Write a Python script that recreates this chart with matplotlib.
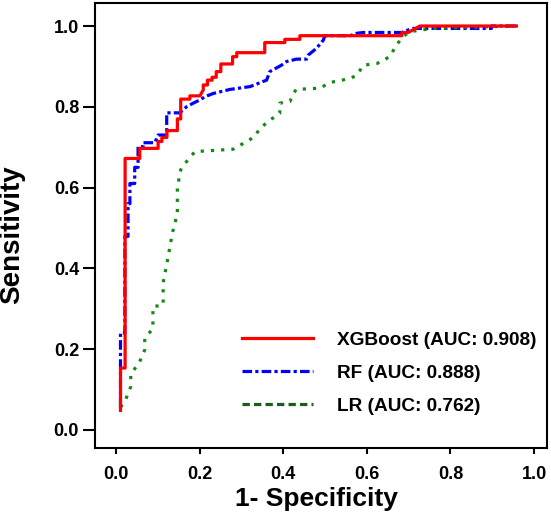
import matplotlib
matplotlib.use('Agg')
import matplotlib.pyplot as plt
from matplotlib.lines import Line2D

plt.rcParams['font.family'] = ['Liberation Sans', 'DejaVu Sans']
plt.rcParams['font.weight'] = 'bold'

# ROC vertices (fpr, tpr)
xgb_fpr = [0.011, 0.011, 0.022, 0.022, 0.057, 0.057, 0.101, 0.101, 0.110, 0.110,
           0.122, 0.122, 0.147, 0.147, 0.155, 0.155, 0.177, 0.177, 0.201, 0.209,
           0.209, 0.219, 0.219, 0.230, 0.230, 0.240, 0.240, 0.251, 0.251, 0.279,
           0.279, 0.289, 0.289, 0.356, 0.356, 0.404, 0.404, 0.440, 0.440, 0.684,
           0.684, 0.699, 0.727, 0.958]
xgb_tpr = [0.048, 0.153, 0.153, 0.672, 0.672, 0.697, 0.697, 0.714, 0.714, 0.724,
           0.724, 0.741, 0.741, 0.770, 0.770, 0.819, 0.819, 0.827, 0.827, 0.842,
           0.854, 0.854, 0.866, 0.866, 0.873, 0.873, 0.887, 0.887, 0.906, 0.906,
           0.924, 0.924, 0.934, 0.934, 0.959, 0.959, 0.967, 0.967, 0.976, 0.976,
           0.984, 0.984, 1.000, 1.000]

rf_fpr = [0.011, 0.011, 0.0215, 0.0215, 0.029, 0.029, 0.0335, 0.0335, 0.045, 0.045,
          0.053, 0.053, 0.065, 0.065, 0.093, 0.101, 0.1215, 0.1215, 0.153, 0.169,
          0.185, 0.201, 0.213, 0.233, 0.273, 0.321, 0.3605, 0.368, 0.396, 0.408,
          0.432, 0.456, 0.460, 0.480, 0.496, 0.500, 0.560, 0.576, 0.592, 0.684,
          0.708, 0.898, 0.898, 0.958]
rf_tpr = [0.056, 0.240, 0.240, 0.479, 0.479, 0.560, 0.560, 0.610, 0.610, 0.650,
          0.650, 0.701, 0.701, 0.711, 0.711, 0.730, 0.730, 0.785, 0.785, 0.800,
          0.809, 0.817, 0.825, 0.833, 0.843, 0.850, 0.866, 0.887, 0.903, 0.912,
          0.918, 0.918, 0.928, 0.945, 0.965, 0.976, 0.976, 0.982, 0.984, 0.984,
          0.994, 0.994, 1.000, 1.000]

lr_fpr = [0.011, 0.0215, 0.0355, 0.0355, 0.057, 0.069, 0.069, 0.0885, 0.0885, 0.113,
          0.113, 0.125, 0.135, 0.147, 0.147, 0.155, 0.1655, 0.189, 0.2807, 0.3125,
          0.332, 0.344, 0.3685, 0.392, 0.392, 0.416, 0.4306, 0.488, 0.512, 0.560,
          0.576, 0.592, 0.624, 0.655, 0.671, 0.687, 0.703, 0.7576, 0.958]
lr_tpr = [0.056, 0.070, 0.107, 0.137, 0.169, 0.198, 0.226, 0.251, 0.305, 0.309,
          0.364, 0.429, 0.487, 0.536, 0.600, 0.644, 0.660, 0.689, 0.695, 0.714,
          0.726, 0.746, 0.767, 0.784, 0.809, 0.813, 0.843, 0.846, 0.860, 0.870,
          0.878, 0.903, 0.907, 0.924, 0.953, 0.974, 0.986, 0.994, 1.000]

labels = ['XGBoost (AUC: 0.908)', 'RF (AUC: 0.888)', 'LR (AUC: 0.762)']

fig = plt.figure(figsize=(5.51, 5.16), dpi=100)
ax = fig.add_axes([0.1724, 0.1318, 0.8203, 0.8624])

ax.plot(rf_fpr, rf_tpr, color='#0000ff', lw=2.3, linestyle=(0, (3, 1, 1, 1)))
ax.plot(lr_fpr, lr_tpr, color='#138a13', lw=2.3, linestyle=(0, (1, 2.2)))
ax.plot(xgb_fpr, xgb_tpr, color='#ff0000', lw=2.3)

handles = [Line2D([], [], color='#ff0000', lw=2.3),
           Line2D([], [], color='#0000ff', lw=2.3, linestyle=(0, (3, 1, 1, 1))),
           Line2D([], [], color='#1b5e1b', lw=2.3, linestyle=(0, (2.3, 1.3)))]
ax.legend(handles, labels, loc='upper left', bbox_to_anchor=(0.325, 0.262),
          frameon=False, fontsize=13.7, handlelength=3.73, handletextpad=1.26,
          labelspacing=0.83, borderpad=0, borderaxespad=0)

ax.set_xlim(-0.050, 1.031)
ax.set_ylim(-0.045, 1.057)
ax.set_xticks([0.0, 0.2, 0.4, 0.6, 0.8, 1.0])
ax.set_yticks([0.0, 0.2, 0.4, 0.6, 0.8, 1.0])
ax.set_xticklabels(['0.0', '0.2', '0.4', '0.6', '0.8', '1.0'])
ax.set_yticklabels(['0.0', '0.2', '0.4', '0.6', '0.8', '1.0'])
ax.tick_params(axis='x', length=4, width=1.5, pad=9, labelsize=13)
ax.tick_params(axis='y', length=8.5, width=1.5, pad=3, labelsize=13)
for s in ax.spines.values():
    s.set_linewidth(1.5)

ax.set_xlabel('1- Specificity', fontsize=19, fontweight='bold')
ax.set_ylabel('Sensitivity', fontsize=20, fontweight='bold')
ax.xaxis.set_label_coords(0.489, -0.087)
ax.yaxis.set_label_coords(-0.155, 0.479)

fig.savefig('out.png', dpi=100)
